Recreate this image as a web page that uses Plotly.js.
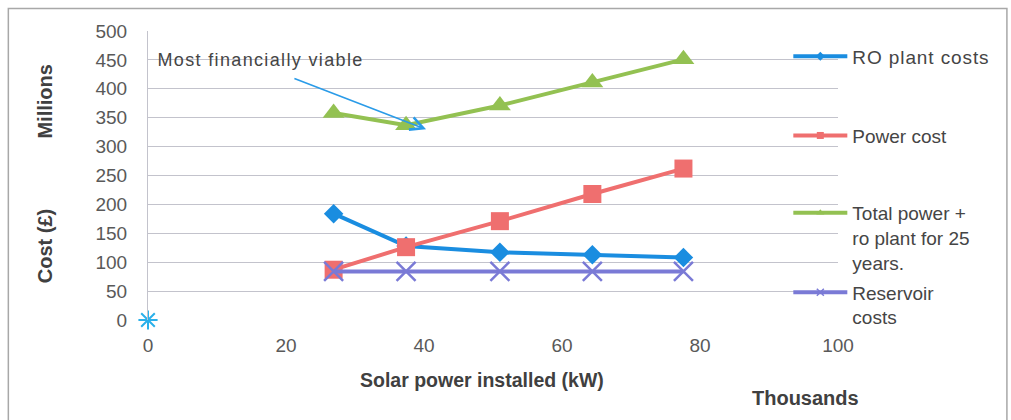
<!DOCTYPE html>
<html>
<head>
<meta charset="utf-8">
<script src="https://cdn.plot.ly/plotly-3.0.1.min.js"></script>
<style>
  html, body { margin: 0; padding: 0; background: #ffffff; }
  #chart { width: 1011px; height: 420px; }
  g.annotation[data-index="0"] text { letter-spacing: 1.35px; }
  .infolayer text.legendtext { letter-spacing: 0.9px; }
  .infolayer .scrollbox { clip-path: none !important; }
</style>
</head>
<body>
<div id="chart"></div>
<script>
// ---- data ----
const solarKW   = [26.9, 37.4, 51.0, 64.4, 77.6];   // thousands of kW
const roPlant   = [184, 128, 117, 113, 108];        // millions £
const powerCost = [87, 126, 171, 218, 262];
const totalCost = [358, 337, 371, 411, 451];
const reservoir = [84, 84, 84, 84, 84];
const originX   = [0];
const originY   = [0];

const seriesNames = ["RO plant costs", "Power cost", "Total power +<br>ro plant for 25<br>years.", "Reservoir<br>costs"];
const xTicks = [0, 20, 40, 60, 80, 100];
const yTicks = [0, 50, 100, 150, 200, 250, 300, 350, 400, 450, 500];

const FONT = '"Liberation Sans", Arial, sans-serif';
const cBlue = '#1a8de0', cRed = '#ef6f6f', cGreen = '#93c152', cPurple = '#7a7ad6', cCyan = '#2ab0ea';

const series = [
  {y: roPlant,   name: seriesNames[0], color: cBlue,   symbol: 'diamond',      size: 15, legend: 'legend'},
  {y: powerCost, name: seriesNames[1], color: cRed,    symbol: 'square',       size: 18, legend: 'legend2'},
  {y: totalCost, name: seriesNames[2], color: cGreen,  symbol: 'triangle-up',  size: 19, legend: 'legend3'},
  {y: reservoir, name: seriesNames[3], color: cPurple, symbol: 'x-thin-open',  size: 19, legend: 'legend4'}
];

const traces = [];
series.forEach(s => {
  traces.push({
    x: solarKW, y: s.y, name: s.name, type: 'scatter', mode: 'lines+markers',
    line: {color: s.color, width: 4},
    marker: {symbol: s.symbol, size: s.size, color: s.color, line: {color: s.color, width: s.symbol === 'x-thin-open' ? 2.5 : 0}},
    showlegend: false, hoverinfo: 'x+y'
  });
});
// legend entries (small markers like the reference legend)
series.forEach(s => {
  traces.push({
    x: [null], y: [null], name: s.name, type: 'scatter', mode: 'lines+markers',
    line: {color: s.color, width: 4},
    marker: {symbol: s.symbol, size: 7, color: s.color, line: {color: s.color, width: s.symbol === 'x-thin-open' ? 1.5 : 0}},
    showlegend: true, legend: s.legend
  });
});
traces.push({
  x: originX, y: originY, type: 'scatter', mode: 'markers', showlegend: false, cliponaxis: false,
  marker: {symbol: 'asterisk-open', size: 16, color: cCyan, line: {color: cCyan, width: 2}}
});

const legendBase = {
  xanchor: 'left', yanchor: 'middle', bgcolor: 'rgba(0,0,0,0)', borderwidth: 0,
  font: {family: FONT, size: 19, color: '#454545'}, itemwidth: 54, valign: 'top',
  itemclick: false, itemdoubleclick: false
};
const lx = 0.928;

const layout = {
  width: 1011, height: 420,
  margin: {l: 148, r: 173, t: 31, b: 100},
  paper_bgcolor: '#ffffff', plot_bgcolor: '#ffffff',
  font: {family: FONT, size: 19, color: '#595959'},
  xaxis: {
    range: [0, 100], tickvals: xTicks, ticktext: xTicks.map(String),
    showgrid: false, zeroline: false, showline: false, ticks: '',
    tickfont: {family: FONT, size: 19, color: '#595959'}, ticklabelstandoff: 12, fixedrange: true
  },
  yaxis: {
    range: [0, 500], tickvals: yTicks, ticktext: yTicks.map(String),
    showgrid: true, gridcolor: '#c3c3cc', gridwidth: 1, zeroline: false,
    showline: true, linecolor: '#c3c3cc', linewidth: 1, ticks: '',
    tickfont: {family: FONT, size: 19, color: '#595959'}, ticklabelstandoff: 16, fixedrange: true
  },
  showlegend: true,
  legend:  Object.assign({}, legendBase, {x: lx, y: 0.912}),
  legend2: Object.assign({}, legendBase, {x: lx, y: 0.638}),
  legend3: Object.assign({}, legendBase, {x: lx, y: 0.284}),
  legend4: Object.assign({}, legendBase, {x: lx, y: 0.052}),
  shapes: [
    {type: 'rect', xref: 'paper', yref: 'paper', x0: -0.2024, x1: 1.2448, y0: -0.37, y1: 1.078,
     line: {color: '#a8a8a8', width: 1.5}, fillcolor: 'rgba(0,0,0,0)', layer: 'below'}
  ],
  annotations: [
    {text: 'Most financially viable', xref: 'x', yref: 'y', x: 3.4, y: 449, xanchor: 'left', yanchor: 'middle',
     showarrow: false, font: {family: FONT, size: 18, color: '#454545'}},
    {text: '', xref: 'x', yref: 'y', x: 40.3, y: 330, axref: 'x', ayref: 'y', ax: 21.0, ay: 419,
     showarrow: true, arrowhead: 5, arrowsize: 1.6, arrowwidth: 1.6, arrowcolor: '#2a9be8', standoff: 0},
    {text: '<b>Millions</b>', xref: 'paper', yref: 'paper', x: -0.1488, y: 0.757, textangle: -90,
     showarrow: false, xanchor: 'center', yanchor: 'middle', font: {family: FONT, size: 20, color: '#404040'}},
    {text: '<b>Cost (£)</b>', xref: 'paper', yref: 'paper', x: -0.1488, y: 0.2565, textangle: -90,
     showarrow: false, xanchor: 'center', yanchor: 'middle', font: {family: FONT, size: 20, color: '#404040'}},
    {text: '<b>Solar power installed (kW)</b>', xref: 'paper', yref: 'paper', x: 0.4844, y: -0.208,
     showarrow: false, xanchor: 'center', yanchor: 'middle', font: {family: FONT, size: 19.5, color: '#404040'}},
    {text: '<b>Thousands</b>', xref: 'paper', yref: 'paper', x: 0.9536, y: -0.270,
     showarrow: false, xanchor: 'center', yanchor: 'middle', font: {family: FONT, size: 20, color: '#404040'}}
  ]
};

Plotly.newPlot('chart', traces, layout, {displayModeBar: false, staticPlot: true});
</script>
</body>
</html>
